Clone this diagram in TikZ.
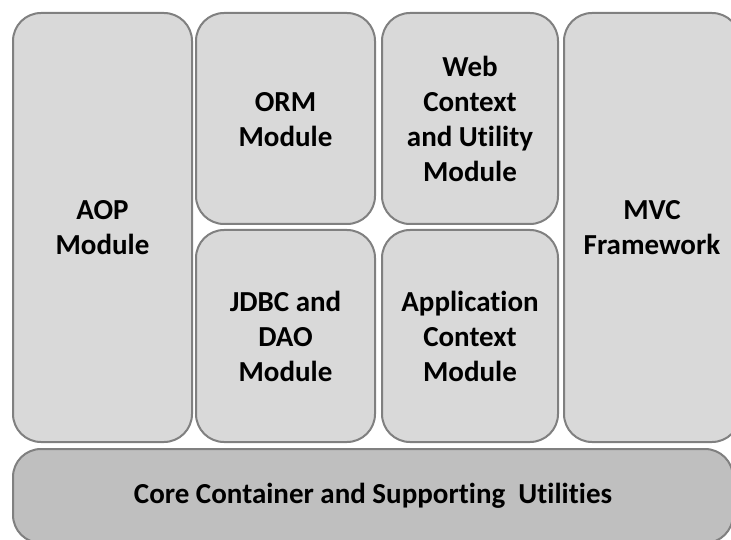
\documentclass[tikz,border=0pt]{standalone}
\usepackage{fontspec}
\setmainfont[Ligatures={NoCommon}]{Carlito}
\begin{document}
\begin{tikzpicture}[x=1pt,y=-1pt,
  mod/.style={draw=black!50, line width=2pt, fill=black!15, rounded corners=28pt},
  core/.style={draw=black!50, line width=2pt, fill=black!25, rounded corners=28pt},
  lbl/.style={font=\bfseries\fontsize{29}{35}\selectfont, align=center, text=black}]
\useasboundingbox (0,0) rectangle (731,540);
\clip (0,0) rectangle (731,540);
\fill[white] (0,0) rectangle (731,540);
\draw[mod] (13,13) rectangle (192,442);
\draw[mod] (196,13) rectangle (375,224);
\draw[mod] (196,230) rectangle (375,442);
\draw[mod] (382,13) rectangle (558,224);
\draw[mod] (382,230) rectangle (558,442);
\draw[mod] (564,13) rectangle (740,442);
\draw[core] (13,449) rectangle (733,543);
\node[lbl] (aopt) at (102.5,228) {AOP\\Module};
\node[lbl] (ormt) at (285.5,120) {ORM\\Module};
\node[lbl] (jdbct) at (285.5,336) {JDBC and\\DAO\\Module};
\node[lbl] (webt) at (470,119) {Web\\Context\\and Utility\\Module};
\node[lbl] (appt) at (470,336) {Application\\Context\\Module};
\node[lbl] (mvct) at (652,228) {MVC\\Framework};
\node[lbl] (coret) at (373,496) {Core Container and Supporting\ \ Utilities};
\end{tikzpicture}
\end{document}
